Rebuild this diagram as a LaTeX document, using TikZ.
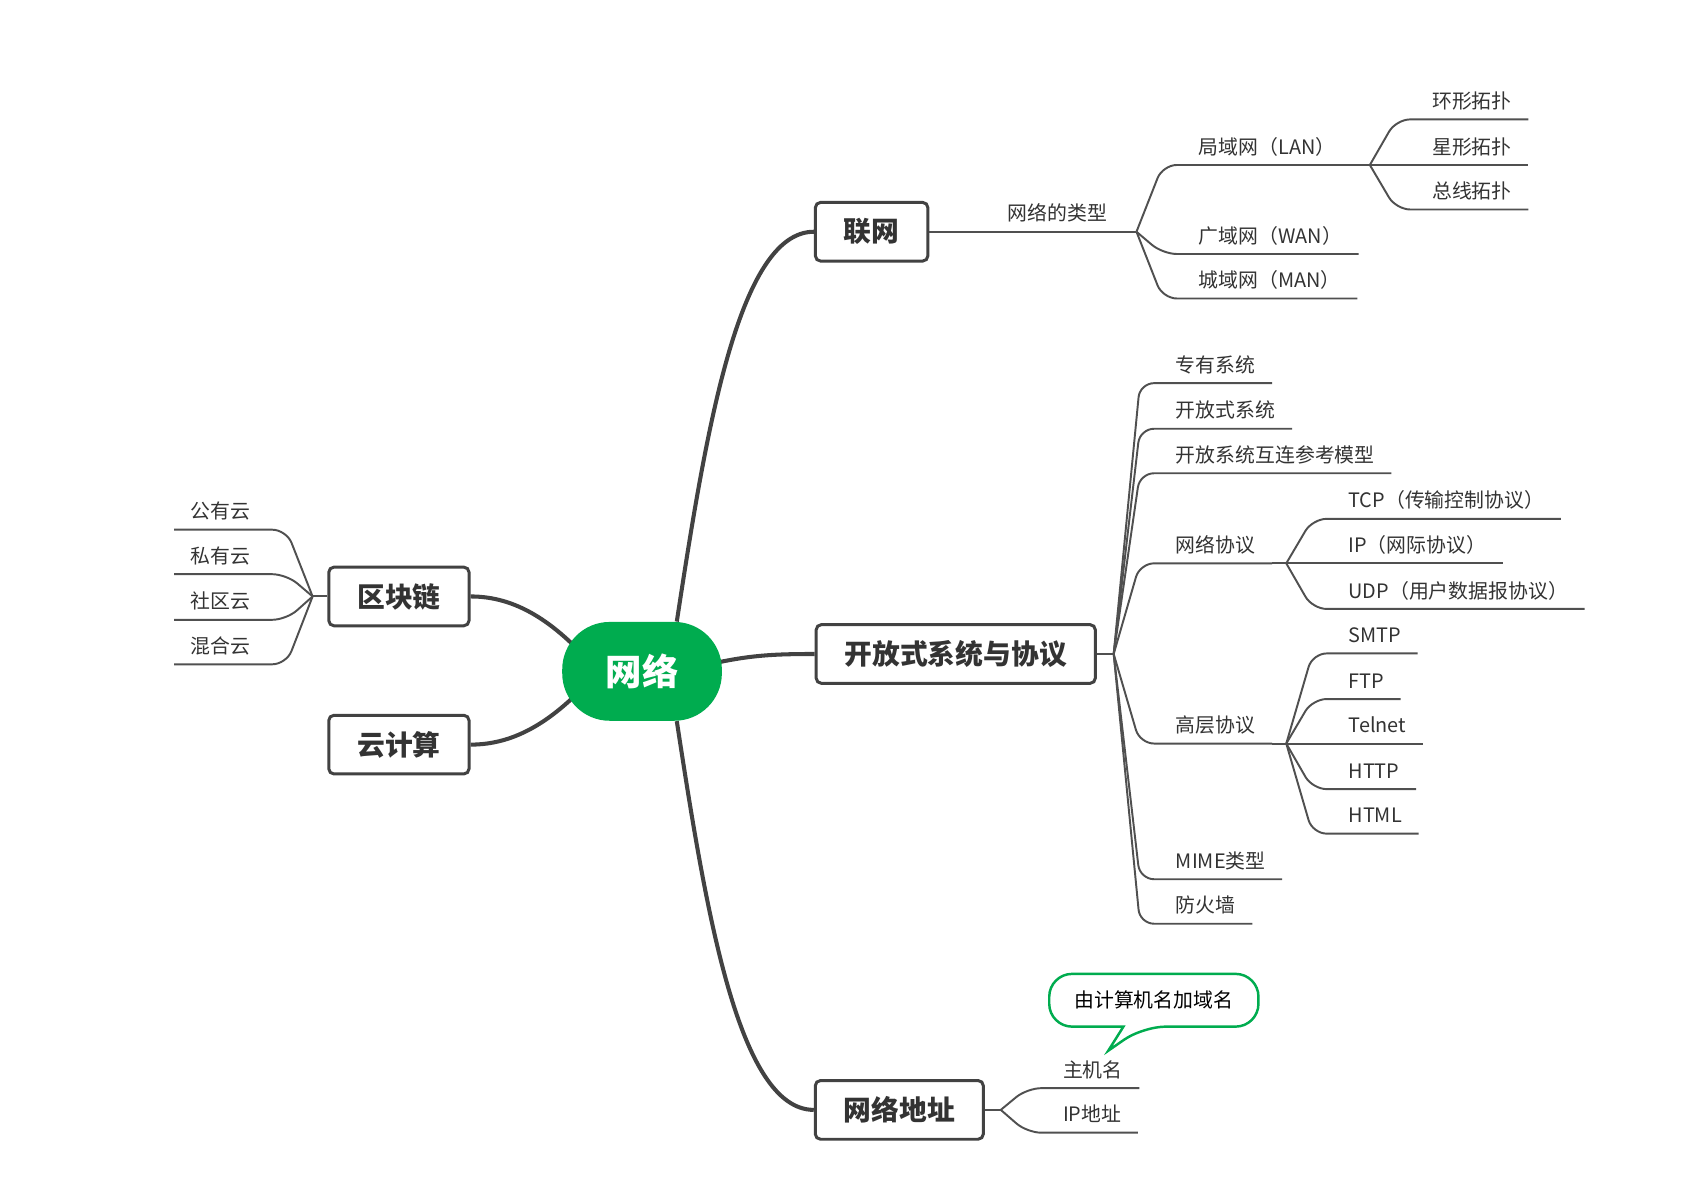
\documentclass[tikz,border=0pt]{standalone}
\usepackage{fontspec}
\newfontfamily\cjk{Noto Sans CJK SC}
\usetikzlibrary{calc,backgrounds}
\definecolor{MapGreen}{HTML}{00AC4F}
\definecolor{MapInk}{HTML}{333333}
\definecolor{MapLine}{HTML}{424242}
\definecolor{MapTwig}{HTML}{505050}

\begin{document}
\begin{tikzpicture}[x=0.0217cm,y=-0.0217cm,
    hub/.style={fill=MapGreen,rounded corners=27pt,minimum width=90.8pt,minimum height=56.2pt,text=white,font=\cjk\bfseries\fontsize{20.7}{24}\selectfont},
    topic/.style={draw=MapLine,line width=1.7pt,rounded corners=3pt,fill=white,minimum height=33.4pt,inner xsep=16.2pt,text=MapInk,font=\cjk\bfseries\fontsize{15.8}{18}\selectfont},
    leaf/.style={inner xsep=9.3pt,inner ysep=4pt,text height=9pt,text depth=2pt,text=MapInk,font=\cjk\fontsize{11.3}{13}\selectfont},
    trunk/.style={MapLine,line width=2.3pt},
    twig/.style={MapTwig,line width=1.1pt,rounded corners=8pt},
    balloon/.style={MapGreen,line width=1.4pt,rounded corners=13pt}]
  \useasboundingbox (0,0) rectangle (1568,1096);

  \node[hub] (net) at (591.5,618.5) {网络};
  \node[topic] (lian) at (803,213.5) {联网};
  \node[topic] (osp) at (880.5,602.5) {开放式系统与协议};
  \node[topic] (addr) at (828.5,1022.5) {网络地址};
  \node[topic] (chain) at (367.5,549.5) {区块链};
  \node[topic] (cloud) at (367.5,686) {云计算};

  \begin{scope}[on background layer]
    \fill[white] (0,0) rectangle (1568,1096);
    \draw[trunk] ($(net.north)+(32,0)$) .. controls (650,400) and (680,213.5) .. (lian.west);
    \draw[trunk] ($(net.east)+(-10,-7)$) .. controls (690,604) and (710,602.5) .. (osp.west);
    \draw[trunk] ($(net.south)+(32,0)$) .. controls (650,837) and (680,1022.5) .. (addr.west);
    \draw[trunk] (chain.east) .. controls (475,549.5) and (510,572) .. ($(net.center)+(-44,-4)$);
    \draw[trunk] (cloud.east) .. controls (475,686) and (510,664) .. ($(net.center)+(-44,4)$);
  \end{scope}

  \node[leaf,anchor=south west] (kinds) at (913,213.5) {网络的类型};
  \coordinate (kindfork) at (1047,213.5);
  \draw[twig] (lian.east) -- (kindfork);
  \foreach \y/\name/\txt in {152/lan/局域网（LAN）,234/wan/广域网（WAN）,275/man/城域网（MAN）}
  {
    \node[leaf,anchor=south west] (\name) at (1089,\y) {\txt};
    \draw[twig] (kindfork) -- ([xshift=-11pt]\name.south west) -- (\name.south east);
  }
  \coordinate (lanfork) at (1262,152);
  \draw[twig] (lan.south east) -- (lanfork);
  \foreach \y/\name/\txt in {110/ring/环形拓扑,152/star/星形拓扑,193/bus/总线拓扑}
  {
    \node[leaf,anchor=south west] (\name) at (1304,\y) {\txt};
    \draw[twig] (lanfork) -- ([xshift=-11pt]\name.south west) -- (\name.south east);
  }

  \coordinate (ospfork) at (1026,602.5);
  \draw[twig] (osp.east) -- (ospfork);
  \foreach \y/\name/\txt in {353/own/专有系统,395/open/开放式系统,436/osi/开放系统互连参考模型,519/proto/网络协议,685/upper/高层协议,810/mime/MIME类型,851/wall/防火墙}
  {
    \node[leaf,anchor=south west] (\name) at (1068,\y) {\txt};
    \draw[twig] (ospfork) -- ([xshift=-11pt]\name.south west) -- (\name.south east);
  }
  \coordinate (protofork) at (1185,519);
  \draw[twig] (proto.south east) -- (protofork);
  \foreach \y/\name/\txt in {478/tcp/TCP（传输控制协议）,519/ip/IP（网际协议）,561/udp/UDP（用户数据报协议）}
  {
    \node[leaf,anchor=south west] (\name) at (1227,\y) {\txt};
    \draw[twig] (protofork) -- ([xshift=-11pt]\name.south west) -- (\name.south east);
  }
  \coordinate (upperfork) at (1185,685);
  \draw[twig] (upper.south east) -- (upperfork);
  \foreach \y/\name/\txt in {602/smtp/SMTP,644/ftp/FTP,685/telnet/Telnet,727/http/HTTP,768/html/HTML}
  {
    \node[leaf,anchor=south west] (\name) at (1227,\y) {\txt};
    \draw[twig] (upperfork) -- ([xshift=-11pt]\name.south west) -- (\name.south east);
  }

  \coordinate (chainfork) at (288,549.5);
  \draw[twig] (chain.west) -- (chainfork);
  \foreach \y/\name/\txt in {488/public/公有云,529/private/私有云,571/community/社区云,612/hybrid/混合云}
  {
    \node[leaf,anchor=south east] (\name) at (246,\y) {\txt};
    \draw[twig] (chainfork) -- ([xshift=11pt]\name.south east) -- (\name.south west);
  }

  \coordinate (addrfork) at (922,1022.5);
  \draw[twig] (addr.east) -- (addrfork);
  \foreach \y/\name/\txt in {1002.5/host/主机名,1043.5/ipaddr/IP地址}
  {
    \node[leaf,anchor=south west] (\name) at (964,\y) {\txt};
    \draw[twig] (addrfork) -- ([xshift=-11pt]\name.south west) -- (\name.south east);
  }

  \node[text=black,font=\cjk\fontsize{11.3}{13}\selectfont,minimum width=118.6pt,minimum height=29.6pt] (hint) at (1063,921.5) {由计算机名加域名};
  \coordinate (tip) at (1021,968);
  \draw[balloon] ([xshift=-17.3pt]hint.south) -- (hint.south west) -- (hint.north west) -- (hint.north east) -- (hint.south east) -- ([xshift=-6.2pt]hint.south) [sharp corners] -- (tip) -- cycle;
\end{tikzpicture}
\end{document}
